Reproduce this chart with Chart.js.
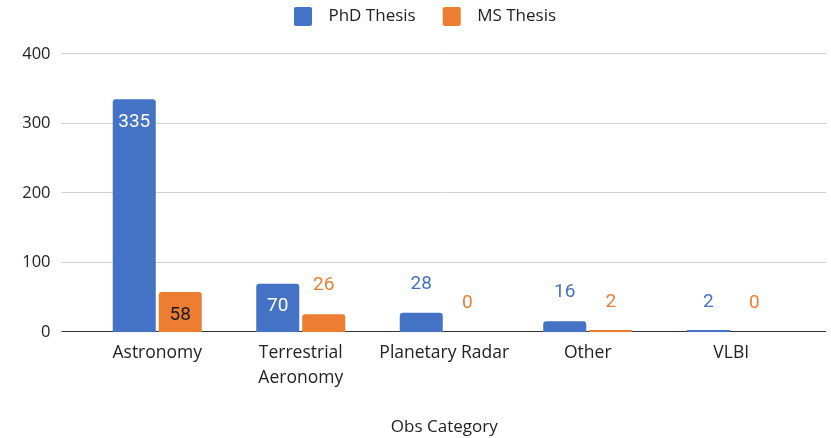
<!DOCTYPE html>
<html><head><meta charset="utf-8">
<script src="https://cdn.jsdelivr.net/npm/chart.js@4.4.0/dist/chart.umd.min.js"></script>
<style>html,body{margin:0;padding:0;background:#fff;}</style>
</head><body>
<canvas id="c" width="831" height="438"></canvas>
<script>
const categories = ['Astronomy', ['Terrestrial', 'Aeronomy'], 'Planetary Radar', 'Other', 'VLBI'];
const phdThesis = [335, 70, 28, 16, 2];
const msThesis = [58, 26, 0, 2, 0];
const yTicks = [0, 100, 200, 300, 400];
const seriesNames = ['PhD Thesis', 'MS Thesis'];
const axisTitle = 'Obs Category';

const colors = ['#4472C4', '#ED7D31'];
const insideColors = ['#ffffff', '#1a1a1a'];
const FONT = "'Open Sans', 'DejaVu Sans', sans-serif";

function legendBox(color) {
  const c = document.createElement('canvas');
  c.width = 45; c.height = 19;
  const x = c.getContext('2d');
  x.fillStyle = color;
  x.beginPath();
  x.roundRect(19, 0, 18, 19, 2);
  x.fill();
  return c;
}
const boxes = colors.map(legendBox);

const gridPlugin = {
  id: 'extGrid',
  beforeInit(chart) {
    const lg = chart.legend;
    if (lg) {
      const fit = lg.fit;
      lg.fit = function () { fit.call(this); this.height = 54; };
    }
  },
  afterLayout(chart) {
    const lg = chart.legend;
    if (lg) { lg.left += 14; lg.right += 14; }
  },
  beforeDatasetsDraw(chart) {
    const { ctx, chartArea: a, scales: { y } } = chart;
    ctx.save();
    y.ticks.forEach(t => {
      const yp = y.getPixelForValue(t.value);
      const py = Math.round(yp) - 0.5;
      ctx.strokeStyle = t.value === 0 ? '#333333' : '#d0d0d0';
      ctx.lineWidth = 1;
      ctx.beginPath();
      ctx.moveTo(a.left - 24, py);
      ctx.lineTo(a.right + 23, py);
      ctx.stroke();
    });
    ctx.restore();
  },
  afterDatasetsDraw(chart) {
    const { ctx } = chart;
    ctx.save();
    // keep very short (non-zero) bars visible as a thin coloured line on the baseline
    chart.data.datasets.forEach((ds, di) => {
      const meta = chart.getDatasetMeta(di);
      meta.data.forEach((bar, i) => {
        const v = ds.data[i];
        const h = bar.base - bar.y;
        if (v > 0 && h < 2.5) {
          const b = Math.round(bar.base);
          ctx.fillStyle = colors[di];
          ctx.fillRect(Math.round(bar.x - bar.width / 2), b - 2, Math.round(bar.width), 2);
        }
      });
    });
    ctx.font = "19px Roboto, 'Open Sans', sans-serif";
    ctx.textAlign = 'center';
    ctx.textBaseline = 'middle';
    chart.data.datasets.forEach((ds, di) => {
      const meta = chart.getDatasetMeta(di);
      meta.data.forEach((bar, i) => {
        const v = ds.data[i];
        const h = bar.base - bar.y;
        let ty, col;
        if (h > 30) { ty = bar.y + 23; col = insideColors[di]; }
        else { ty = bar.y - 29; col = colors[di]; }
        ctx.fillStyle = col;
        ctx.fillText(String(v), bar.x, ty);
      });
    });
    ctx.restore();
  }
};

new Chart(document.getElementById('c'), {
  type: 'bar',
  data: {
    labels: categories,
    datasets: [
      { label: seriesNames[0], data: phdThesis, backgroundColor: colors[0] },
      { label: seriesNames[1], data: msThesis, backgroundColor: colors[1] }
    ]
  },
  options: {
    responsive: false,
    animation: false,
    devicePixelRatio: 1,
    categoryPercentage: 0.641,
    barPercentage: 0.935,
    borderRadius: (c) => (c.raw >= 10 ? 3 : 0),
    layout: { padding: { left: 0, right: 28, top: 0, bottom: 0 } },
    plugins: {
      tooltip: { enabled: false },
      legend: {
        position: 'top',
        labels: {
          usePointStyle: true,
          pointStyleWidth: 45,
          padding: 8,
          color: '#222',
          font: { family: FONT, size: 17 },
          generateLabels(chart) {
            const items = Chart.defaults.plugins.legend.labels.generateLabels(chart);
            items.forEach((it, i) => { it.pointStyle = boxes[i]; });
            return items;
          }
        }
      }
    },
    scales: {
      x: {
        grid: { display: false, drawTicks: false },
        border: { display: false },
        ticks: { color: '#222', font: { family: FONT, size: 17.5, lineHeight: 1.45 }, padding: 8, maxRotation: 0, autoSkip: false },
        title: { display: true, text: axisTitle, color: '#222', font: { family: FONT, size: 17 }, padding: { top: 18, bottom: 0.5 } }
      },
      y: {
        min: 0, max: 400,
        afterBuildTicks(s) { s.ticks = yTicks.map(v => ({ value: v })); },
        afterFit(s) { s.width = 85.5; },
        grid: { display: false, drawTicks: false },
        border: { display: false },
        ticks: { color: '#222', padding: 35, font: { family: FONT, size: 16.5 } }
      }
    }
  },
  plugins: [gridPlugin]
});
</script>
</body></html>
